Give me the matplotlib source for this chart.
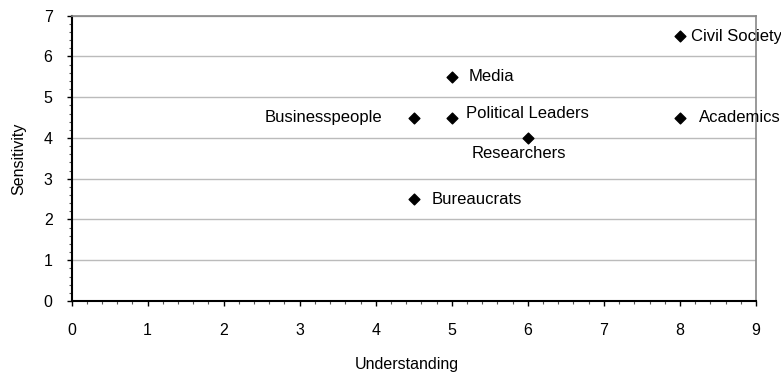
import matplotlib.pyplot as plt
from matplotlib.ticker import MultipleLocator

plt.rcParams['font.family'] = ['Liberation Sans', 'DejaVu Sans']

groups = ['Civil Society', 'Media', 'Businesspeople', 'Political Leaders',
          'Academics', 'Researchers', 'Bureaucrats']
understanding = [8, 5, 4.5, 5, 8, 6, 4.5]
sensitivity = [6.5, 5.5, 4.5, 4.5, 4.5, 4, 2.5]

# label offsets in points and alignment for each group
label_pos = {
    'Civil Society': ((8, 0), 'left'),
    'Media': ((12, 0), 'left'),
    'Businesspeople': ((-23, 0), 'right'),
    'Political Leaders': ((10, 3), 'left'),
    'Academics': ((14, 0), 'left'),
    'Researchers': ((-6.5, -11.5), 'center'),
    'Bureaucrats': ((13, 0), 'left'),
}

fig = plt.figure(figsize=(7.81, 3.73), dpi=100)
ax = fig.add_axes([71.5 / 781, 1 - 301 / 373, (756 - 71.5) / 781, (301 - 15.7) / 373])

ax.scatter(understanding, sensitivity, marker='D', s=30, color='black', zorder=3)
for name, x, y in zip(groups, understanding, sensitivity):
    off, ha = label_pos[name]
    ax.annotate(name, (x, y), xytext=off, textcoords='offset points',
                ha=ha, va='center', fontsize=12, annotation_clip=False)

ax.set_xlim(0, 9)
ax.set_ylim(0, 7)
ax.xaxis.set_major_locator(MultipleLocator(1))
ax.xaxis.set_minor_locator(MultipleLocator(0.2))
ax.yaxis.set_major_locator(MultipleLocator(1))
ax.yaxis.set_minor_locator(MultipleLocator(0.2))
ax.tick_params(which='major', length=3.6, width=1, labelsize=11.5)
ax.tick_params(axis='x', which='major', pad=12)
ax.tick_params(axis='y', which='major', pad=10)
ax.tick_params(which='minor', length=2.4, width=0.8, color='#555555')

ax.grid(axis='y', which='major', color='#bbbbbb', linewidth=1)
ax.set_axisbelow(True)
for side in ['top', 'right']:
    ax.spines[side].set_color('#888888')
    ax.spines[side].set_linewidth(1.2)
for side in ['left', 'bottom']:
    ax.spines[side].set_color('black')
    ax.spines[side].set_linewidth(1.5)

ax.set_xlabel('Understanding', fontsize=11.5)
ax.set_ylabel('Sensitivity', fontsize=11.5)
ax.xaxis.set_label_coords(0.49, -0.221)
ax.xaxis.label.set_va('center')
ax.yaxis.set_label_coords(-0.077, 0.5)
ax.yaxis.label.set_va('center')

fig.savefig('out.png', dpi=100)
